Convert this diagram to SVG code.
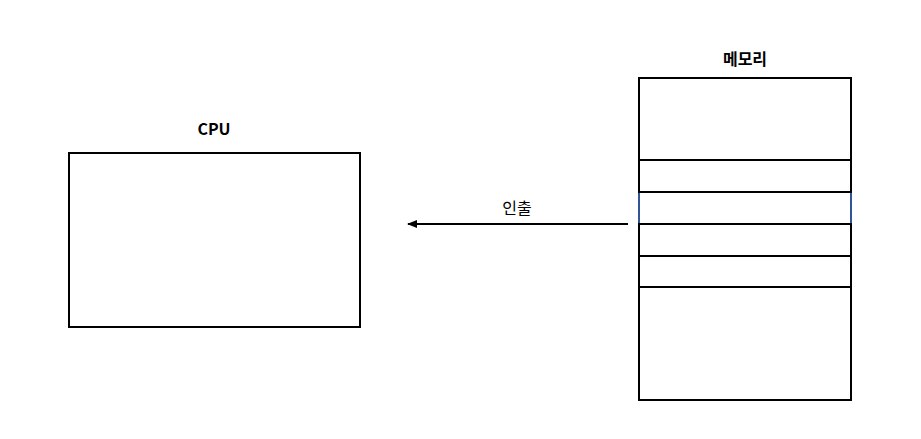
<svg xmlns="http://www.w3.org/2000/svg" width="921" height="439" viewBox="0 0 921 439">
<style>
.box{fill:#fff;stroke:#000;stroke-width:2}
.sep{stroke:#000;stroke-width:2}
.lbl{font-family:"Noto Sans CJK KR","Noto Sans",sans-serif;font-size:16px;fill:#000;text-anchor:middle}
.b{font-weight:bold}
</style>
<defs>
<marker id="ah" viewBox="0 0 10 10" refX="9" refY="5" markerWidth="5" markerHeight="5" orient="auto-start-reverse" markerUnits="strokeWidth">
<path d="M0,1 L10,5 L0,9 Z" fill="#000"/>
</marker>
</defs>
<rect width="921" height="439" fill="#fff"/>
<g id="cpu">
<rect class="box" x="69" y="153" width="291" height="174"/>
<text class="lbl b" x="214" y="135">CPU</text>
</g>
<g id="memory">
<rect class="box" x="639" y="78" width="212" height="322"/>
<line x1="639" y1="192" x2="639" y2="224" stroke="#2F5597" stroke-width="2"/>
<line x1="851" y1="192" x2="851" y2="224" stroke="#2F5597" stroke-width="2"/>
<line class="sep" x1="638" y1="160" x2="852" y2="160"/>
<line class="sep" x1="638" y1="192" x2="852" y2="192"/>
<line class="sep" x1="638" y1="224" x2="852" y2="224"/>
<line class="sep" x1="638" y1="256" x2="852" y2="256"/>
<line class="sep" x1="638" y1="287" x2="852" y2="287"/>
<text class="lbl b" x="745" y="65">메모리</text>
</g>
<g id="connectors">
<line x1="628" y1="224" x2="408" y2="224" stroke="#000" stroke-width="2" marker-end="url(#ah)"/>
<text class="lbl" x="517" y="214">인출</text>
</g>
</svg>
